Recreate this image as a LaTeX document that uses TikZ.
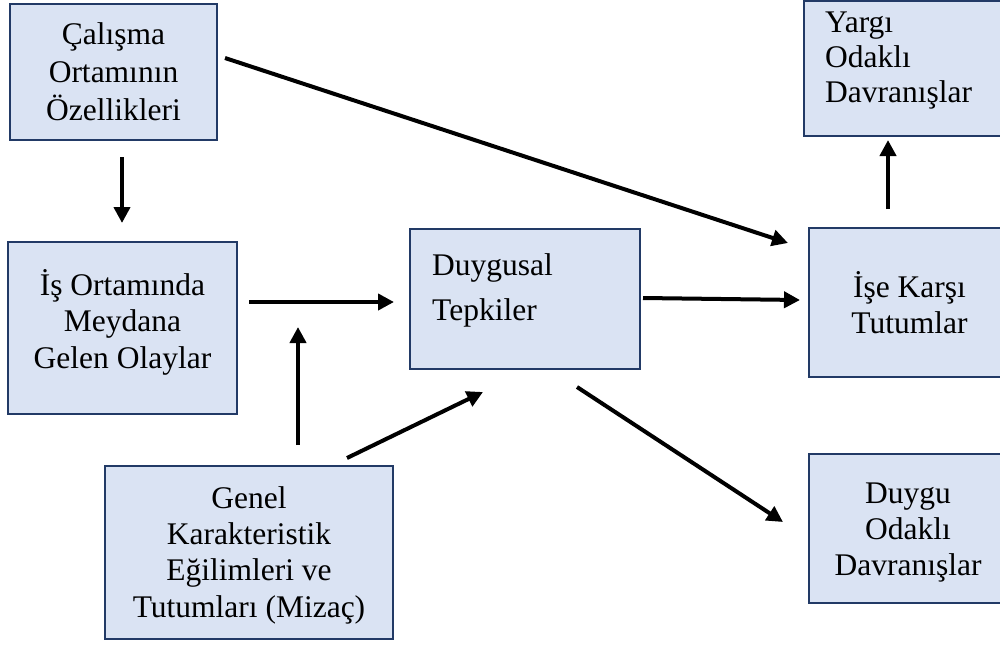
\documentclass[tikz,border=0pt]{standalone}
\usepackage{fontspec}
\setmainfont{Liberation Serif}
\usetikzlibrary{arrows.meta}
\definecolor{boxfill}{HTML}{DAE3F3}
\definecolor{boxline}{HTML}{223A66}
\tikzset{
  box/.style={draw=boxline, fill=boxfill, line width=2pt, inner sep=0pt, rectangle},
  txt/.style={inner sep=0pt, anchor=base, align=center},
  arr/.style={line width=4pt, -{Triangle[length=16pt,width=16pt]}}
}
\newcommand{\fs}[1]{\fontsize{31.5}{#1}\selectfont}
\begin{document}
\begin{tikzpicture}[x=1pt,y=-1pt]
\useasboundingbox (0,0) rectangle (1000,645);
\clip (0,0) rectangle (1000,645);

% boxes
\node[box, minimum width=207pt, minimum height=136pt] (cal) at (113.5,72) {};
\node[box, minimum width=206pt, minimum height=135pt] (yargi) at (907,68.5) {};
\node[box, minimum width=230pt, minimum height=140pt] (dug) at (525,299) {};
\node[box, minimum width=229pt, minimum height=172pt] (isort) at (122.5,328) {};
\node[box, minimum width=288pt, minimum height=173pt] (genel) at (249,552.5) {};
\node[box, minimum width=201pt, minimum height=149pt] (ise) at (909.5,302.5) {};
\node[box, minimum width=201pt, minimum height=149pt] (duygu) at (909.5,528.5) {};

% texts (anchored at the baseline of their last line)
\node[txt, font=\fs{38}] (calT) at (113.5,120) {Çalışma\\Ortamının\\Özellikleri};
\node[txt, font=\fs{35}, anchor=base west, align=left] (yargiT) at (825,102) {Yargı\\Odaklı\\Davranışlar};
\node[txt, font=\fs{45}, anchor=base west, align=left] (dugT) at (432,320) {Duygusal\\Tepkiler};
\node[txt, font=\fs{36.5}] (isortT) at (122.5,368) {İş Ortamında\\Meydana\\Gelen Olaylar};
\node[txt, font=\fs{36.3}] (genelT) at (249,617) {Genel\\Karakteristik\\Eğilimleri ve\\Tutumları (Mizaç)};
\node[txt, font=\fs{36}] (iseT) at (909.5,333) {İşe Karşı\\Tutumlar};
\node[txt, font=\fs{36}] (duyguT) at (908,575) {Duygu\\Odaklı\\Davranışlar};

% arrow ends
\coordinate (a1s) at (122,157);  \coordinate (a1e) at (122,223);
\coordinate (a2s) at (225,58);   \coordinate (a2e) at (788,243);
\coordinate (a3s) at (249,302);  \coordinate (a3e) at (394,302);
\coordinate (a4s) at (298,445);  \coordinate (a4e) at (298,327);
\coordinate (a5s) at (347,458);  \coordinate (a5e) at (483,392);
\coordinate (a6s) at (643,298);  \coordinate (a6e) at (800,300);
\coordinate (a7s) at (577,387);  \coordinate (a7e) at (783,522);
\coordinate (a8s) at (888,209);  \coordinate (a8e) at (888,140);

\draw[arr] (a1s) -- (a1e);
\draw[arr] (a2s) -- (a2e);
\draw[arr] (a3s) -- (a3e);
\draw[arr] (a4s) -- (a4e);
\draw[arr] (a5s) -- (a5e);
\draw[arr] (a6s) -- (a6e);
\draw[arr] (a7s) -- (a7e);
\draw[arr] (a8s) -- (a8e);
\end{tikzpicture}
\end{document}
